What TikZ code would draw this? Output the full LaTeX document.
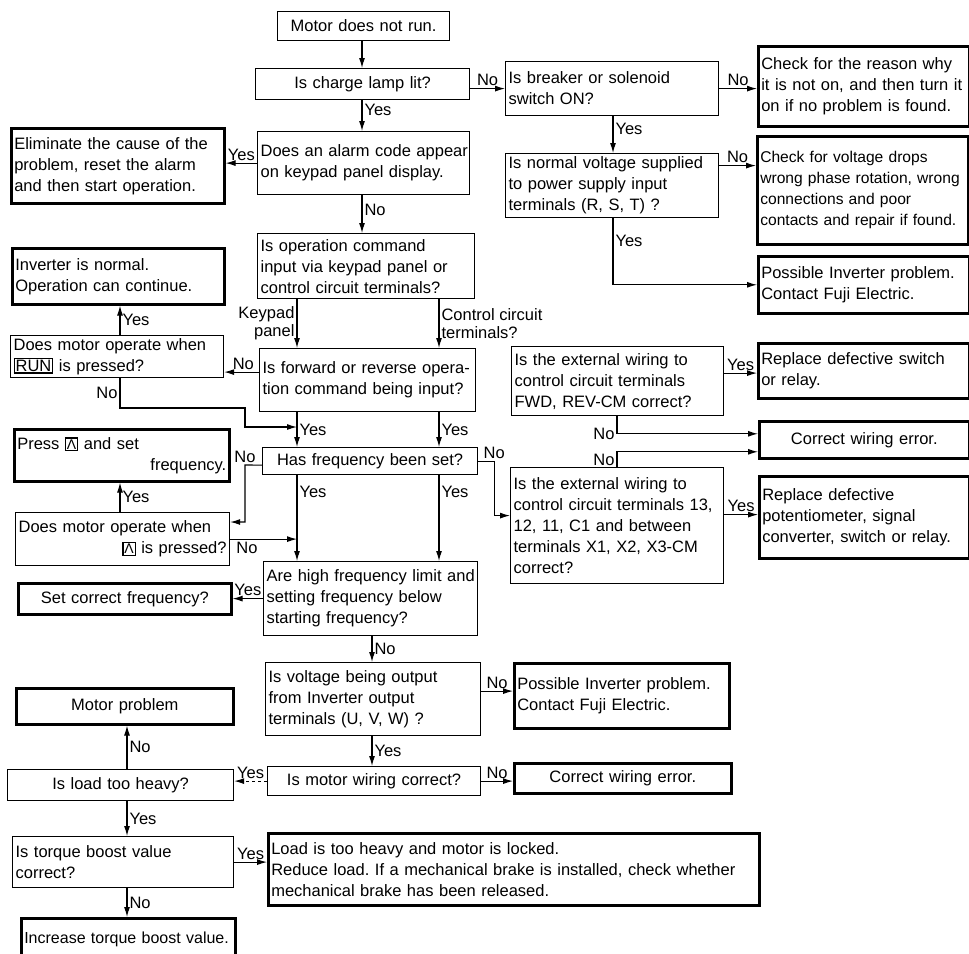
\documentclass[tikz,border=0pt]{standalone}
\usepackage{fontspec}
\setmainfont{Liberation Sans}
\usetikzlibrary{arrows.meta,positioning}

\newcommand{\keycap}[1]{{\setlength{\fboxsep}{0.8pt}\setlength{\fboxrule}{1.2pt}\fbox{#1}}}
\newcommand{\upkeycap}{\keycap{\fontsize{14}{14}\selectfont Λ}}
\frenchspacing

\begin{document}
\begin{tikzpicture}[x=1pt, y=-1pt, font=\fontsize{16.5}{21}\selectfont,
    ask/.style={draw, line width=1.2pt, anchor=north west, inner xsep=3pt, inner ysep=2pt, align=left},
    fix/.style={ask, line width=2.6pt},
    flow/.style={line width=1.1pt, -{Latex[length=10pt,width=6pt]}},
    tag/.style={inner sep=2pt, font=\fontsize{16.5}{18}\selectfont}]
        \useasboundingbox (0,0) rectangle (969,953);

        % Main column
        \node[ask, text width=166pt, align=center, minimum height=29pt] (start) at (277,11) {Motor does not run.};
        \node[ask, text width=208pt, align=center, minimum height=31pt] (lamp) at (255,68) {Is charge lamp lit?};
        \node[ask, text width=206pt, minimum height=63pt] (alarm) at (257,131) {\mbox{Does an alarm code appear}\\on keypad panel display.};
        \node[ask, text width=211pt, minimum height=65pt] (cmd) at (257,233) {Is operation command\\input via keypad panel or\\control circuit terminals?};
        \node[ask, text width=210pt, minimum height=63pt] (fwd) at (259,348) {\mbox{Is forward or reverse opera-}\\tion command being input?};
        \node[ask, text width=209pt, align=center, minimum height=27pt] (freq) at (262,447) {Has frequency been set?};
        \node[ask, text width=208pt, minimum height=74pt] (limit) at (263,561) {\mbox{Are high frequency limit and}\\setting frequency below\\starting frequency?};
        \node[ask, text width=209pt, minimum height=73pt] (vout) at (265,662) {Is voltage being output\\from Inverter output\\terminals (U, V, W) ?};
        \node[ask, text width=207pt, align=center, minimum height=29pt] (mwire) at (267,766) {Is motor wiring correct?};
        \node[fix, text width=485pt, minimum height=72pt] (locked) at (267,832) {Load is too heavy and motor is locked.\\Reduce load. If a mechanical brake is installed, check whether\\mechanical brake has been released.};

        % Left column
        \node[fix, text width=207pt, minimum height=75pt] (reset) at (10,127) {Eliminate the cause of the\\problem, reset the alarm\\and then start operation.};
        \node[fix, text width=206pt, minimum height=56pt] (normal) at (11,247) {Inverter is normal.\\Operation can continue.};
        \node[ask, text width=207pt, minimum height=42pt] (runkey) at (10,335) {Does motor operate when\\\keycap{RUN} is pressed?};
        \node[fix, text width=209pt, minimum height=52pt] (press) at (13,428) {Press \upkeycap\ and set\\\hspace*{0pt plus 1fill}frequency.};
        \node[ask, text width=208pt, minimum height=53pt] (upkey) at (15,512) {Does motor operate when\\\hspace*{0pt plus 1fill}\upkeycap\ is pressed?};
        \node[fix, text width=207pt, align=center, minimum height=31pt] (setf) at (17,582) {Set correct frequency?};
        \node[fix, text width=211pt, align=center, minimum height=36pt] (mprob) at (15,687) {Motor problem};
        \node[ask, text width=220pt, align=center, minimum height=31pt] (heavy) at (7,769) {Is load too heavy?};
        \node[ask, text width=215pt, minimum height=51pt] (boost) at (12,836) {Is torque boost value\\correct?};
        \node[fix, text width=208pt, minimum height=43pt, font=\fontsize{16}{21}\selectfont] (incr) at (20,917) {\mbox{Increase torque boost value.}};

        % Right column
        \node[ask, text width=207pt, minimum height=54pt] (breaker) at (505,61) {Is breaker or solenoid\\switch ON?};
        \node[fix, text width=205pt, minimum height=80pt] (why) at (757,45) {Check for the reason why\\it is not on, and then turn it\\on if no problem is found.};
        \node[ask, text width=207pt, minimum height=64pt] (voltage) at (505,153) {Is normal voltage supplied\\to power supply input\\terminals (R, S, T) ?};
        \node[fix, text width=205pt, minimum height=108pt, font=\fontsize{15.6}{21}\selectfont] (drops) at (756,135) {Check for voltage drops\\\mbox{wrong phase rotation, wrong}\\connections and poor\\\mbox{contacts and repair if found.}};
        \node[fix, text width=205pt, minimum height=57pt] (inv1) at (757,255) {Possible Inverter problem.\\Contact Fuji Electric.};
        \node[ask, text width=206pt, minimum height=69pt] (ext1) at (511,346) {Is the external wiring to\\control circuit terminals\\FWD, REV-CM correct?};
        \node[fix, text width=205pt, minimum height=55pt] (replace1) at (757,342) {Replace defective switch\\or relay.};
        \node[fix, text width=204pt, align=center, minimum height=37pt] (wire1) at (758,420) {Correct wiring error.};
        \node[ask, text width=207pt, minimum height=116pt] (ext2) at (510,467) {Is the external wiring to\\control circuit terminals 13,\\12, 11, C1 and between\\terminals X1, X2, X3-CM\\correct?};
        \node[fix, text width=204pt, minimum height=82pt] (replace2) at (758,475) {Replace defective\\potentiometer, signal\\converter, switch or relay.};
        \node[fix, text width=209pt, minimum height=65pt] (inv2) at (513,662) {Possible Inverter problem.\\Contact Fuji Electric.};
        \node[fix, text width=211pt, align=center, minimum height=30pt] (wire2) at (513,762) {Correct wiring error.};

        % Line positions and bends
        \coordinate (mx) at (362,0);
        \coordinate (kp) at (297,0);
        \coordinate (cc) at (439,0);
        \coordinate (vx) at (372,0);
        \coordinate (lx) at (120,0);
        \coordinate (bx) at (127,0);
        \coordinate (rx) at (613,0);
        \coordinate (wx) at (617,0);
        \coordinate (n1) at (120,408);
        \coordinate (n2) at (245,408);
        \coordinate (n3) at (245,427);
        \coordinate (n4) at (245,465);
        \coordinate (n5) at (245,522);

        % Connectors
        \draw[flow] (mx |- start.south) -- (mx |- lamp.north);
        \draw[flow] (mx |- lamp.south) -- (mx |- alarm.north) node[tag, pos=0.3, right] {Yes};
        \draw[flow] (mx |- alarm.south) -- (mx |- cmd.north) node[tag, pos=0.4, right] {No};
        \draw[flow] (alarm.west) -- (alarm.west -| reset.east) node[tag, midway, above] {Yes};
        \draw[flow] (kp |- cmd.south) -- (kp |- fwd.north) node[tag, midway, left, align=right] {Keypad\\panel};
        \draw[flow] (cc |- cmd.south) -- (cc |- fwd.north) node[tag, midway, right, align=left] {Control circuit\\terminals?};
        \draw[flow] ([yshift=8pt]fwd.west) -- ([yshift=8pt]fwd.west -| runkey.east) node[tag, pos=0.45, above] {No};
        \draw[flow] (lx |- runkey.north) -- (lx |- normal.south) node[tag, midway, right] {Yes};
        \draw[flow] (lx |- runkey.south) -- (n1) node[tag, midway, left] {No} -- (n2) -- (n3) -- (kp |- n3);
        \draw[flow] (kp |- fwd.south) -- (kp |- freq.north) node[tag, midway, right] {Yes};
        \draw[flow] (cc |- fwd.south) -- (cc |- freq.north) node[tag, midway, right] {Yes};
        \draw[flow] ([yshift=-4pt]freq.west) -- (n4) node[tag, above] {No} -- (n5) -- (n5 -| upkey.east);
        \draw[flow] (lx |- upkey.north) -- (lx |- press.south) node[tag, midway, right] {Yes};
        \draw[flow] (upkey.east) -- (upkey.east -| kp) node[tag, pos=0.25, below] {No};
        \draw[flow] (kp |- freq.south) -- (kp |- limit.north) node[tag, pos=0.2, right] {Yes};
        \draw[flow] (cc |- freq.south) -- (cc |- limit.north) node[tag, pos=0.2, right] {Yes};
        \draw[flow] (freq.east) -- ++(16,0) node[tag, above] {No} |- ([yshift=10pt]ext2.west);
        \draw[flow] (limit.west) -- (limit.west -| setf.east) node[tag, midway, above] {Yes};
        \draw[flow] (vx |- limit.south) -- (vx |- vout.north) node[tag, midway, right] {No};
        \draw[flow] ([yshift=8pt]vout.east) -- ([yshift=8pt]vout.east -| inv2.west) node[tag, midway, above] {No};
        \draw[flow] (vx |- vout.south) -- (vx |- mwire.north) node[tag, midway, right] {Yes};
        \draw[flow] (mwire.east) -- (mwire.east -| wire2.west) node[tag, midway, above] {No};
        \draw[flow, dashed] (mwire.west) -- (mwire.west -| heavy.east) node[tag, midway, above] {Yes};
        \draw[flow] (bx |- heavy.north) -- (bx |- mprob.south) node[tag, midway, right] {No};
        \draw[flow] (bx |- heavy.south) -- (bx |- boost.north) node[tag, midway, right] {Yes};
        \draw[flow] (boost.east) -- (boost.east -| locked.west) node[tag, midway, above] {Yes};
        \draw[flow] (bx |- boost.south) -- (bx |- incr.north) node[tag, midway, right] {No};

        % Supply branch
        \draw[flow] (lamp.east |- breaker.west) -- (breaker.west) node[tag, midway, above] {No};
        \draw[flow] (breaker.east) -- (breaker.east -| why.west) node[tag, midway, above] {No};
        \draw[flow] (rx |- breaker.south) -- (rx |- voltage.north) node[tag, pos=0.35, right] {Yes};
        \draw[flow] ([yshift=20pt]voltage.east) -- ([yshift=20pt]voltage.east -| drops.west) node[tag, midway, above] {No};
        \draw[flow] (rx |- voltage.south) |- (inv1.west) node[tag, pos=0.17, right] {Yes};

        % Wiring checks
        \draw[flow] ([yshift=8pt]ext1.east) -- ([yshift=8pt]ext1.east -| replace1.west) node[tag, midway, above] {Yes};
        \draw[flow] (wx |- ext1.south) |- ([yshift=6pt]wire1.west) node[tag, pos=0.5, left] {No};
        \draw[flow] (wx |- ext2.north) |- ([yshift=-12pt]wire1.west) node[tag, pos=0.25, left] {No};
        \draw[flow] ([yshift=11pt]ext2.east) -- ([yshift=11pt]ext2.east -| replace2.west) node[tag, midway, above] {Yes};
    \end{tikzpicture}
\end{document}
